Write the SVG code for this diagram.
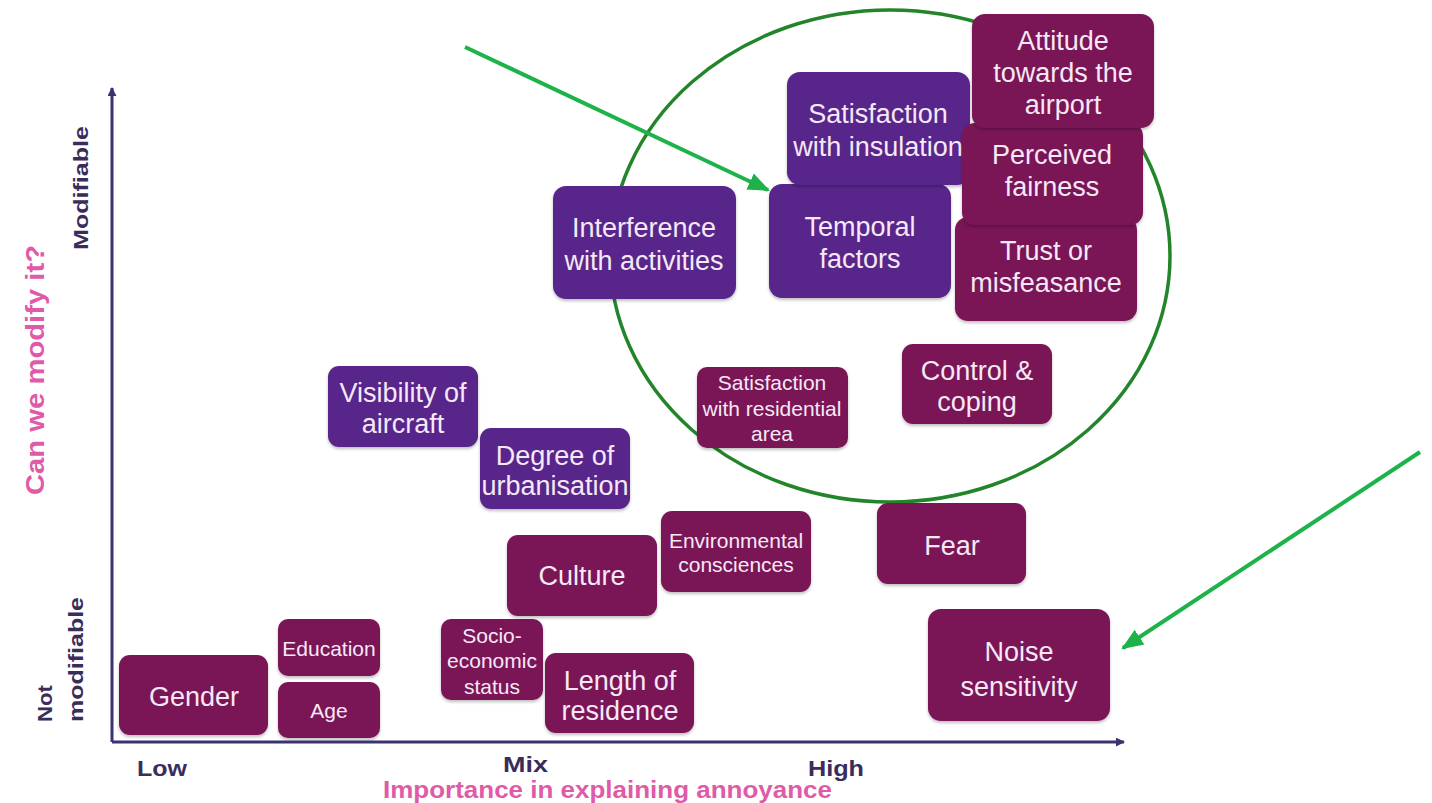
<svg xmlns="http://www.w3.org/2000/svg" width="1432" height="803" viewBox="0 0 1432 803">
<defs>
<style>
.p{fill:#58278a}
.m{fill:#7a1456}
.t{font-family:"Liberation Sans",Arial,sans-serif;font-size:27px;fill:#f6e8f6;text-anchor:middle}
.s{font-size:21px}
.ax{font-family:"Liberation Sans",Arial,sans-serif;font-weight:bold;fill:#3a2d5c}
.pk{font-family:"Liberation Sans",Arial,sans-serif;font-weight:bold;fill:#e05aa8}
</style>
<filter id="sh" x="-10%" y="-10%" width="120%" height="130%"><feDropShadow dx="0" dy="2" stdDeviation="1.5" flood-color="#000" flood-opacity="0.25"/></filter>
<marker id="axh" viewBox="0 0 10 10" refX="9" refY="5" markerWidth="9" markerHeight="9" orient="auto" markerUnits="userSpaceOnUse"><path d="M0,0 L10,5 L0,10 z" fill="#3a3370"/></marker>
<marker id="gh" viewBox="0 0 10 10" refX="9" refY="5" markerWidth="22" markerHeight="22" orient="auto" markerUnits="userSpaceOnUse"><path d="M0,1 L10,5 L0,9 z" fill="#1db34a"/></marker>
</defs>
<rect width="1432" height="803" fill="#fff"/>

<g id="axes">
<path d="M112,742 V88" stroke="#3a3370" stroke-width="3" fill="none" marker-end="url(#axh)"/>
<path d="M112,742 H1124" stroke="#3a3370" stroke-width="3" fill="none" marker-end="url(#axh)"/>
<text class="ax" font-size="21" transform="translate(88,188) rotate(-90)" text-anchor="middle" textLength="124" lengthAdjust="spacingAndGlyphs">Modifiable</text>
<text class="pk" font-size="26" transform="translate(44,370) rotate(-90)" text-anchor="middle" textLength="250" lengthAdjust="spacingAndGlyphs">Can we modify it?</text>
<text class="ax" font-size="21" transform="translate(52,722) rotate(-90)" textLength="37" lengthAdjust="spacingAndGlyphs">Not</text>
<text class="ax" font-size="21" transform="translate(83,722) rotate(-90)" textLength="125" lengthAdjust="spacingAndGlyphs">modifiable</text>
<text class="ax" font-size="22" x="137" y="776" textLength="50" lengthAdjust="spacingAndGlyphs">Low</text>
<text class="ax" font-size="22" x="503" y="772" textLength="45" lengthAdjust="spacingAndGlyphs">Mix</text>
<text class="ax" font-size="22" x="808" y="776" textLength="56" lengthAdjust="spacingAndGlyphs">High</text>
<text class="pk" font-size="23" x="383" y="798" textLength="449" lengthAdjust="spacingAndGlyphs">Importance in explaining annoyance</text>
</g>

<ellipse id="focus-circle" cx="890" cy="256" rx="280" ry="246" fill="none" stroke="#23852a" stroke-width="3.5"/>

<g id="n-gender"><rect class="m" filter="url(#sh)" x="119" y="655" width="149" height="80" rx="11"/><text class="t" x="194" y="706">Gender</text></g>
<g id="n-education"><rect class="m" filter="url(#sh)" x="278" y="619" width="102" height="57" rx="10"/><text class="t s" x="329" y="656">Education</text></g>
<g id="n-age"><rect class="m" filter="url(#sh)" x="278" y="682" width="102" height="56" rx="10"/><text class="t s" x="329" y="718">Age</text></g>
<g id="n-socio"><rect class="m" filter="url(#sh)" x="441" y="619" width="102" height="81" rx="10"/><text class="t s" x="492" y="643">Socio-</text><text class="t s" x="492" y="668">economic</text><text class="t s" x="492" y="694">status</text></g>
<g id="n-length"><rect class="m" filter="url(#sh)" x="545" y="653" width="149" height="80" rx="11"/><text class="t" x="620" y="690">Length of</text><text class="t" x="620" y="720">residence</text></g>
<g id="n-culture"><rect class="m" filter="url(#sh)" x="507" y="535" width="150" height="81" rx="11"/><text class="t" x="582" y="585">Culture</text></g>
<g id="n-env"><rect class="m" filter="url(#sh)" x="661" y="511" width="150" height="81" rx="11"/><text class="t s" x="736" y="548">Environmental</text><text class="t s" x="736" y="572">consciences</text></g>
<g id="n-visibility"><rect class="p" filter="url(#sh)" x="328" y="366" width="150" height="81" rx="11"/><text class="t" x="403" y="402">Visibility of</text><text class="t" x="403" y="433">aircraft</text></g>
<g id="n-degree"><rect class="p" filter="url(#sh)" x="480" y="428" width="150" height="81" rx="11"/><text class="t" x="555" y="465">Degree of</text><text class="t" x="555" y="495">urbanisation</text></g>
<g id="n-fear"><rect class="m" filter="url(#sh)" x="877" y="503" width="149" height="81" rx="11"/><text class="t" x="952" y="555">Fear</text></g>
<g id="n-noise"><rect class="m" filter="url(#sh)" x="928" y="609" width="182" height="112" rx="13"/><text class="t" font-size="31" x="1019" y="661">Noise</text><text class="t" font-size="31" x="1019" y="696">sensitivity</text></g>
<g id="n-control"><rect class="m" filter="url(#sh)" x="902" y="344" width="150" height="80" rx="11"/><text class="t" x="977" y="380">Control &amp;</text><text class="t" x="977" y="411">coping</text></g>
<g id="n-resid"><rect class="m" filter="url(#sh)" x="697" y="367" width="151" height="81" rx="10"/><text class="t s" x="772" y="390">Satisfaction</text><text class="t s" x="772" y="416">with residential</text><text class="t s" x="772" y="441">area</text></g>
<g id="n-interference"><rect class="p" filter="url(#sh)" x="553" y="186" width="183" height="113" rx="13"/><text class="t" x="644" y="237">Interference</text><text class="t" x="644" y="270">with activities</text></g>
<g id="n-temporal"><rect class="p" filter="url(#sh)" x="769" y="184" width="182" height="114" rx="13"/><text class="t" x="860" y="236">Temporal</text><text class="t" x="860" y="268">factors</text></g>
<g id="n-insulation"><rect class="p" filter="url(#sh)" x="787" y="72" width="183" height="113" rx="13"/><text class="t" x="878" y="123">Satisfaction</text><text class="t" x="878" y="156">with insulation</text></g>
<g id="n-trust"><rect class="m" filter="url(#sh)" x="955" y="217" width="182" height="104" rx="13"/><text class="t" x="1046" y="260">Trust or</text><text class="t" x="1046" y="292">misfeasance</text></g>
<g id="n-fairness"><rect class="m" filter="url(#sh)" x="962" y="123" width="181" height="102" rx="13"/><text class="t" x="1052" y="164">Perceived</text><text class="t" x="1052" y="196">fairness</text></g>
<g id="n-attitude"><rect class="m" filter="url(#sh)" x="972" y="14" width="182" height="114" rx="13"/><text class="t" x="1063" y="50">Attitude</text><text class="t" x="1063" y="82">towards the</text><text class="t" x="1063" y="114">airport</text></g>

<g id="connectors">
<path d="M465,47 L768,190" stroke="#1db34a" stroke-width="4" fill="none" marker-end="url(#gh)"/>
<path d="M1420,452 L1123,648" stroke="#1db34a" stroke-width="4" fill="none" marker-end="url(#gh)"/>
</g>
</svg>
